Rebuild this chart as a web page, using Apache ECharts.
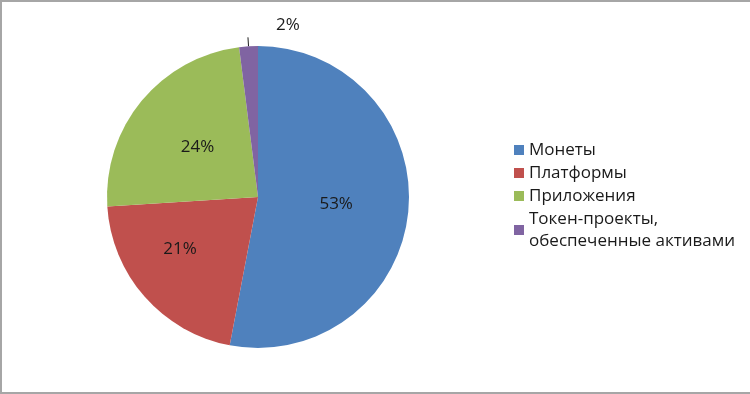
<!DOCTYPE html>
<html><head><meta charset="utf-8">
<script src="https://cdn.jsdelivr.net/npm/echarts@6/dist/echarts.min.js"></script>
<style>
html,body{margin:0;padding:0;background:#fff;}
#frame{position:absolute;left:0;top:0;width:750px;height:394px;box-sizing:border-box;border-left:2px solid #a6a6a6;border-top:2px solid #a6a6a6;border-bottom:2px solid #a6a6a6;}
#chart{position:absolute;left:0;top:0;width:750px;height:394px;}
</style></head>
<body>
<div id="chart"></div>
<div id="frame"></div>
<script>
const categories = ["Монеты", "Платформы", "Приложения", "Токен-проекты,\nобеспеченные активами"];
const values = [53, 21, 24, 2];
const colors = ["#4f81bd", "#c0504d", "#9bbb59", "#8064a2"];

const chart = echarts.init(document.getElementById('chart'));
chart.setOption({
  animation: false,
  legend: {
    orient: 'vertical',
    left: 509,
    top: 134,
    padding: 5,
    itemWidth: 10,
    itemHeight: 10,
    itemGap: 1,
    icon: 'rect',
    data: categories,
    textStyle: { fontFamily: 'Open Sans', fontSize: 17, color: '#1a1a1a', lineHeight: 22 }
  },
  series: [{
    type: 'pie',
    center: [258, 197],
    radius: [0, 151],
    startAngle: 90,
    clockwise: true,
    avoidLabelOverlap: false,
    data: categories.map((c, i) => ({
      name: c, value: values[i],
      itemStyle: { color: colors[i] },
      label: i === 3 ? { position: 'outside' } : { position: 'inside' },
      labelLine: i === 3 ? { show: true, length: 9, length2: 0, lineStyle: { color: '#1a1a1a', width: 1 } } : { show: false }
    })),
    label: {
      formatter: '{c}%',
      fontFamily: 'Open Sans',
      fontSize: 17,
      color: '#1a1a1a'
    },
    itemStyle: { borderWidth: 0 },
    emphasis: { disabled: true },
    labelLayout: function (p) {
      if (p.dataIndex === 3) {
        return { x: 288, y: 25, align: 'center', verticalAlign: 'middle', labelLinePoints: p.labelLinePoints };
      }
      if (p.dataIndex === 1) {
        return { dx: -19 };
      }
      return {};
    }
  }]
});
</script>
</body></html>
